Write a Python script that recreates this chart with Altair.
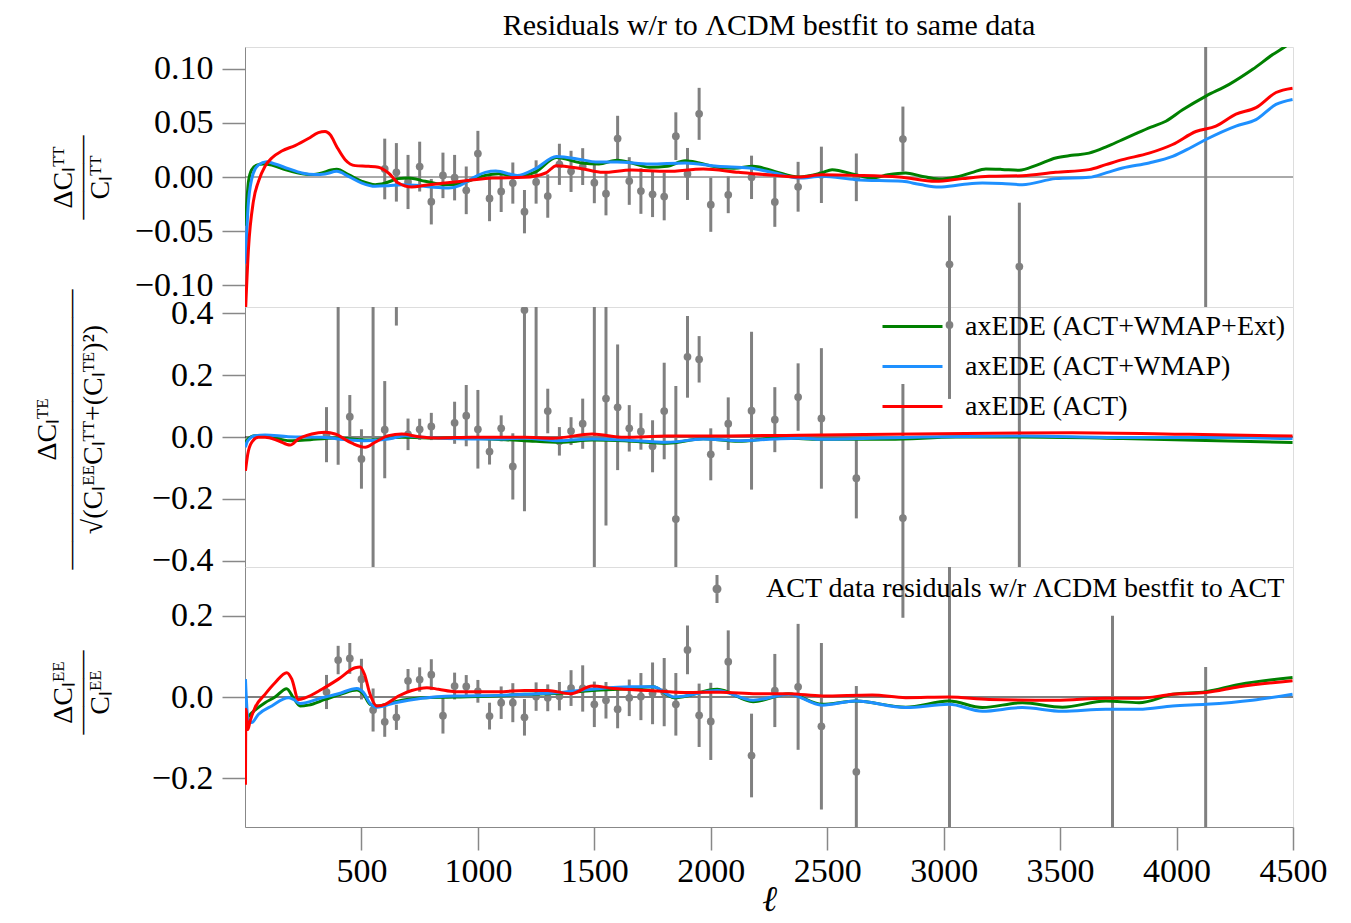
import altair as alt
import pandas as pd

FONT = "Liberation Serif"
SERIES = ["axEDE (ACT+WMAP+Ext)", "axEDE (ACT+WMAP)", "axEDE (ACT)"]
COLORS = ["#008000", "#1e90ff", "#ff0000"]
DATA_LABEL = "ACT data residuals w/r \u039bCDM bestfit to ACT"
TITLE = "Residuals w/r to \u039bCDM bestfit to same data"

X_TICKS = [500, 1000, 1500, 2000, 2500, 3000, 3500, 4000, 4500]
TT_TICKS = [-0.10, -0.05, 0.0, 0.05, 0.10]
TE_TICKS = [-0.4, -0.2, 0.0, 0.2, 0.4]
EE_TICKS = [-0.2, 0.0, 0.2]

# ---------------- model curves: TT ----------------
TT_G_ELL = [2, 15, 29, 50, 79, 115, 172, 229, 287, 330, 370, 394, 444, 502, 559, 602, 659, 702, 774, 860, 917, 974,
            1032, 1089, 1169, 1250, 1337, 1445, 1520, 1598, 1660, 1737, 1813, 1890, 1950, 2028, 2100, 2182, 2274,
            2378, 2478, 2521, 2622, 2693, 2760, 2837, 2900, 2980, 3052, 3120, 3181, 3250, 3324, 3400, 3481, 3550,
            3624, 3700, 3768, 3825, 3890, 3954, 4026, 4126, 4226, 4327, 4413, 4470, 4500]
TT_G_VAL = [-0.045, -0.004, 0.0068, 0.011, 0.012, 0.011, 0.0068, 0.0037, 0.0022, 0.0037, 0.0065, 0.0071, 0.0022,
            -0.004, -0.0071, -0.0056, -0.0015, -0.0009, -0.004, -0.0071, -0.0065, -0.0025, 0.0015, 0.003, 0.0006,
            0.005, 0.018, 0.013, 0.012, 0.0154, 0.013, 0.009, 0.010, 0.015, 0.013, 0.009, 0.008, 0.0099, 0.0052,
            0.0, 0.004, 0.0068, 0.002, -0.001, 0.002, 0.0037, 0.001, -0.0019, 0.0, 0.004, 0.0074, 0.007, 0.0062,
            0.011, 0.0176, 0.020, 0.022, 0.028, 0.0346, 0.040, 0.046, 0.0515, 0.062, 0.0747, 0.0855, 0.0994, 0.113,
            0.121, 0.126]
TT_B_ELL = [2, 15, 36, 57, 93, 129, 186, 244, 301, 344, 394, 444, 502, 559, 616, 673, 731, 802, 874, 924, 974, 1032,
            1077, 1169, 1250, 1337, 1445, 1506, 1598, 1737, 1890, 2028, 2166, 2274, 2378, 2478, 2622, 2823, 2900,
            2980, 3080, 3166, 3250, 3338, 3481, 3624, 3700, 3768, 3882, 3983, 4060, 4126, 4255, 4341, 4427, 4498]
TT_B_VAL = [-0.08, -0.0225, 0.0037, 0.011, 0.014, 0.012, 0.0077, 0.0037, 0.0022, 0.0028, 0.0052, 0.0006, -0.0056,
            -0.0086, -0.008, -0.0071, -0.0077, -0.0093, -0.0102, -0.0077, -0.0015, 0.0043, 0.0055, 0.0015, 0.008,
            0.019, 0.016, 0.0139, 0.0139, 0.012, 0.013, 0.0099, 0.0083, 0.0037, -0.001, 0.0006, -0.0025, -0.004,
            -0.007, -0.0093, -0.007, -0.0056, -0.006, -0.0071, -0.0015, -0.0003, 0.004, 0.0083, 0.013, 0.019, 0.027,
            0.0346, 0.047, 0.053, 0.067, 0.0716]
TT_R_ELL = [2, 15, 36, 58, 86, 115, 158, 215, 272, 315, 344, 366, 394, 430, 473, 530, 573, 616, 659, 716, 774, 831,
            903, 974, 1060, 1199, 1291, 1337, 1445, 1537, 1660, 1813, 1967, 2120, 2274, 2378, 2478, 2622, 2808, 2966,
            3080, 3195, 3338, 3481, 3624, 3696, 3768, 3882, 3983, 4083, 4169, 4255, 4341, 4427, 4498]
TT_R_VAL = [-0.125, -0.066, -0.0225, -0.004, 0.010, 0.0176, 0.024, 0.029, 0.0355, 0.041, 0.042, 0.039, 0.028, 0.016,
            0.0105, 0.0099, 0.009, 0.0037, -0.0056, -0.0093, -0.0077, -0.0062, -0.0046, -0.0028, -0.001, -0.0003,
            0.0037, 0.0105, 0.0077, 0.0043, 0.0065, 0.0052, 0.0074, 0.0043, 0.0015, 0.0, 0.002, 0.0015, 0.0, -0.004,
            -0.0015, 0.0006, 0.0012, 0.0043, 0.0068, 0.0114, 0.016, 0.022, 0.030, 0.042, 0.047, 0.058, 0.064, 0.078,
            0.082]

# ---------------- model curves: TE ----------------
TE_G_ELL = [2, 12, 43, 86, 194, 258, 387, 530, 673, 810, 974, 1200, 1353, 1491, 1629, 1813, 1967, 2120, 2274, 2378,
            2478, 2765, 3052, 3338, 3768, 4126, 4498]
TE_G_VAL = [-0.018, -0.007, 0.004, 0.003, -0.012, -0.010, -0.003, -0.010, -0.001, -0.003, -0.004, -0.012, -0.017,
            -0.010, -0.012, -0.020, -0.006, -0.014, -0.004, -0.005, -0.0075, -0.0075, 0.0, 0.0, -0.005, -0.011,
            -0.018]
TE_B_ELL = [2, 12, 43, 86, 186, 330, 444, 516, 616, 688, 760, 974, 1100, 1200, 1353, 1491, 1629, 1813, 1967, 2120,
            2274, 2378, 2478, 2908, 3338, 3768, 4200, 4498]
TE_B_VAL = [-0.033, -0.012, 0.004, 0.0065, 0.001, -0.001, -0.0097, -0.012, -0.0065, 0.004, -0.001, -0.0065, -0.0065,
            -0.004, -0.012, -0.0065, -0.0097, -0.017, -0.0065, -0.012, -0.0065, -0.004, -0.0075, 0.0, 0.003, -0.002,
            -0.002, -0.005]
TE_R_ELL = [2, 12, 29, 57, 86, 143, 194, 229, 287, 344, 387, 459, 516, 559, 616, 673, 745, 831, 974, 1200, 1322,
            1491, 1629, 1813, 1967, 2378, 2765, 3553, 4054, 4498]
TE_R_VAL = [-0.109, -0.055, -0.017, -0.001, -0.001, -0.012, -0.026, -0.0065, 0.0097, 0.015, 0.0097, -0.020, -0.033,
            -0.017, 0.0043, 0.0097, 0.001, -0.003, -0.001, -0.001, -0.004, 0.0097, -0.001, 0.003, 0.003, 0.006,
            0.009, 0.014, 0.0086, 0.003]

# ---------------- model curves: EE ----------------
EE_G_ELL = [2, 7, 29, 86, 129, 179, 208, 237, 272, 344, 416, 480, 509, 537, 566, 645, 760, 903, 1089, 1200, 1353,
            1491, 1660, 1752, 1844, 2028, 2182, 2335, 2478, 2622, 2837, 3023, 3166, 3338, 3510, 3696, 3839, 3983,
            4126, 4269, 4498]
EE_G_VAL = [-0.03, -0.051, -0.039, -0.014, 0.0, 0.0206, -0.002, -0.022, -0.020, -0.006, 0.008, 0.017, 0.0066,
            -0.018, -0.022, -0.0115, -0.002, 0.0, 0.003, 0.0066, 0.009, 0.016, 0.021, 0.025, -0.002, 0.019, -0.0115,
            0.008, -0.018, -0.010, -0.025, -0.010, -0.026, -0.014, -0.025, -0.010, -0.014, 0.0066, 0.013, 0.031,
            0.048]
EE_B_ELL = [2, 12, 29, 57, 115, 186, 208, 237, 330, 401, 480, 509, 537, 566, 645, 760, 903, 1089, 1200, 1353, 1491,
            1660, 1752, 1844, 2028, 2182, 2335, 2478, 2622, 2837, 3023, 3166, 3338, 3510, 3696, 3839, 3983, 4126,
            4326, 4498]
EE_B_VAL = [0.044, -0.051, -0.063, -0.043, -0.022, -0.002, -0.006, -0.016, -0.002, 0.008, 0.021, 0.011, -0.016,
            -0.025, -0.014, -0.003, 0.0025, 0.004, 0.0066, 0.011, 0.019, 0.025, 0.025, 0.0, 0.016, -0.008, 0.007,
            -0.020, -0.010, -0.026, -0.018, -0.035, -0.026, -0.035, -0.030, -0.030, -0.022, -0.018, -0.008, 0.0066]
EE_R_ELL = [2, 4, 12, 22, 43, 86, 129, 179, 201, 229, 258, 330, 401, 473, 494, 513, 537, 566, 602, 659, 716, 781,
            831, 903, 1089, 1200, 1300, 1399, 1491, 1583, 1737, 1890, 2043, 2197, 2335, 2478, 2693, 2837, 3023, 3195,
            3481, 3696, 3839, 3983, 4126, 4269, 4498]
EE_R_VAL = [-0.216, -0.030, -0.080, -0.059, -0.026, 0.0066, 0.035, 0.060, 0.044, -0.006, -0.002, 0.019, 0.044,
            0.072, 0.074, 0.056, 0.0066, -0.022, -0.018, 0.0025, 0.016, 0.023, 0.019, 0.013, 0.013, 0.016, 0.016,
            0.008, 0.027, 0.021, 0.016, 0.011, 0.012, 0.008, 0.008, 0.0025, 0.005, -0.0016, 0.0, -0.006, -0.008,
            -0.003, -0.003, 0.0066, 0.011, 0.025, 0.040]

# ---------------- ACT data residuals ----------------
TT_ELL = [600, 650, 700, 750, 800, 850, 900, 950, 1000, 1050, 1100, 1150, 1200, 1250, 1300, 1350, 1400, 1450, 1500,
          1550, 1600, 1650, 1700, 1750, 1800, 1850, 1900, 1950, 2000, 2075, 2175, 2275, 2375, 2475, 2625, 2825, 3025,
          3325, 4125]
TT_RES = [0.0074, 0.0043, -0.0046, 0.0096, -0.0228, 0.0015, -0.0006, -0.0123, 0.0216, -0.0198, -0.0133, -0.0056,
          -0.032, -0.0046, -0.0176, 0.0117, 0.0052, 0.0096, -0.0052, -0.0154, 0.0355, -0.0037, -0.013, -0.016, -0.018,
          0.0377, 0.0028, 0.0583, -0.0256, -0.0164, -0.0003, -0.023, -0.009, 0.002, -0.0003, 0.035, -0.0806, -0.0827,
          -0.2]
TT_ERR = [0.028, 0.027, 0.025, 0.023, 0.021, 0.021, 0.021, 0.022, 0.021, 0.021, 0.019, 0.019, 0.020, 0.020, 0.020,
          0.019, 0.019, 0.017, 0.019, 0.020, 0.021, 0.022, 0.021, 0.021, 0.022, 0.022, 0.024, 0.024, 0.025, 0.017,
          0.020, 0.023, 0.023, 0.026, 0.022, 0.030, 0.045, 0.059, 0.40]

TE_ELL = [350, 400, 450, 500, 550, 600, 650, 700, 750, 800, 900, 950, 1000, 1050, 1100, 1150, 1200, 1250, 1300, 1350,
          1400, 1450, 1500, 1550, 1600, 1650, 1700, 1750, 1800, 1850, 1900, 1950, 2000, 2075, 2175, 2275, 2375, 2475,
          2625, 2825, 3025, 3325]
TE_RES = [0.0075, 0.5, 0.0656, -0.071, -0.6, 0.0237, 0.55, 0.0086, 0.025, 0.034, 0.046, 0.069, 0.025, -0.047, 0.028,
          -0.095, 0.41, 0.6, 0.084, -0.014, 0.019, 0.043, -0.6, 0.124, 0.096, 0.028, 0.018, -0.030, 0.084, -0.265,
          0.259, 0.251, -0.056, 0.043, 0.085, 0.056, 0.129, 0.060, -0.133, -0.262, 0.362, -0.5]
TE_ERR = [0.089, 0.59, 0.070, 0.096, 1.2, 0.157, 0.19, 0.051, 0.034, 0.044, 0.068, 0.099, 0.127, 0.042, 0.042, 0.107,
          0.65, 0.6, 0.072, 0.046, 0.045, 0.081, 1.1, 0.41, 0.203, 0.075, 0.059, 0.084, 0.156, 0.43, 0.132, 0.075,
          0.084, 0.085, 0.255, 0.105, 0.109, 0.227, 0.13, 0.433, 0.239, 1.0]

EE_ELL = [350, 400, 450, 500, 550, 600, 650, 700, 750, 800, 850, 900, 950, 1000, 1050, 1100, 1150, 1200, 1250, 1300,
          1350, 1400, 1450, 1500, 1550, 1600, 1650, 1700, 1750, 1800, 1850, 1900, 1950, 2000, 2075, 2175, 2275, 2375,
          2475, 2625, 2825, 3025, 3725, 4125]
EE_RES = [0.0123, 0.091, 0.095, 0.044, -0.032, -0.061, -0.050, 0.040, 0.043, 0.055, -0.046, 0.027, 0.026, 0.014,
          -0.047, -0.014, -0.014, -0.050, 0.001, -0.002, 0.002, 0.022, 0.021, -0.018, -0.008, -0.030, -0.002, 0.001,
          0.009, 0.012, -0.018, 0.116, -0.045, -0.060, 0.087, -0.144, 0.016, 0.025, -0.072, -0.184, 0.42, -0.45,
          -0.4, -0.36]
EE_ERR = [0.042, 0.035, 0.038, 0.050, 0.053, 0.037, 0.031, 0.029, 0.030, 0.038, 0.044, 0.033, 0.028, 0.028, 0.033,
          0.040, 0.048, 0.045, 0.035, 0.033, 0.035, 0.044, 0.057, 0.056, 0.045, 0.047, 0.045, 0.058, 0.076, 0.084,
          0.077, 0.060, 0.078, 0.095, 0.077, 0.103, 0.090, 0.155, 0.205, 0.211, 0.225, 0.8, 0.6, 0.434]

TT_YTITLE = ["\u0394C\u2097\u1d40\u1d40", "\u2014\u2014\u2014", "C\u2097\u1d40\u1d40"]
TE_YTITLE = ["\u0394C\u2097\u1d40\u1d31", "\u2014" * 10,
             "\u221a(C\u2097\u1d31\u1d31C\u2097\u1d40\u1d40+(C\u2097\u1d40\u1d31)\u00b2)"]
EE_YTITLE = ["\u0394C\u2097\u1d31\u1d31", "\u2014\u2014\u2014", "C\u2097\u1d31\u1d31"]

GRAY = "#808080"
ERRBAR_SYMBOL = "M0,-1.4V1.4M-0.3,0A0.3,0.3,0,1,1,0.3,0A0.3,0.3,0,1,1,-0.3,0Z"


def make_panel(curves, ell, res, err, domain, ticks, fmt, ytitle, title_x, title_y, line_h,
               show_x=False, line_legend=None, point_legend=False, zero_color="black", top_title=None):
    cdf = pd.concat([pd.DataFrame({"ell": e, "v": v, "model": name, "k": i})
                     for i, (name, e, v) in enumerate(curves)], ignore_index=True)
    pdf = pd.DataFrame({"ell": ell, "res": res,
                        "lo": [r - s for r, s in zip(res, err)],
                        "hi": [r + s for r, s in zip(res, err)],
                        "lab": DATA_LABEL})
    zdf = pd.DataFrame({"z": [0.0]})

    yscale = alt.Scale(domain=domain, nice=False, zero=False)
    yaxis = alt.Axis(values=ticks, format=fmt, title=ytitle, titleX=title_x, titleY=title_y,
                     titleLineHeight=line_h, titleFontSize=28, titleFont=FONT, titleFontWeight="normal",
                     titleAngle=270, titleAlign="center", titleBaseline="bottom", grid=False,
                     labelFontSize=34, labelFont=FONT, labelPadding=9, tickSize=23, tickWidth=1.5,
                     labelFlush=False, labelOverlap=False, labelBound=False)
    if show_x:
        xaxis = alt.Axis(values=X_TICKS, format="d", title="\u2113", titleFontSize=36, titleFont=FONT,
                         titleFontStyle="italic", titleFontWeight="normal", titlePadding=-6, grid=False,
                         labelFontSize=34, labelFont=FONT, labelPadding=4, tickSize=23, tickWidth=1.5,
                         labelFlush=False, labelOverlap=False, labelBound=False)
    else:
        xaxis = None
    xenc = alt.X("ell:Q", scale=alt.Scale(domain=[0, 4500], nice=False, zero=False), axis=xaxis)

    def Y(field):
        return alt.Y(field, type="quantitative", scale=yscale, axis=yaxis)

    zero = alt.Chart(zdf).mark_rule(color=zero_color, strokeWidth=1).encode(y=Y("z"))
    bars = alt.Chart(pdf).mark_rule(color=GRAY, strokeWidth=3, clip=True).encode(
        x=xenc, y=Y("lo"), y2="hi")
    if point_legend:
        pts = alt.Chart(pdf).mark_circle(size=60, opacity=1, clip=True).encode(
            x=xenc, y=Y("res"),
            fill=alt.Fill("lab:N", scale=alt.Scale(domain=[DATA_LABEL], range=[GRAY]),
                          legend=alt.Legend(orient="none", legendX=458, legendY=8, title=None,
                                            symbolType=ERRBAR_SYMBOL, symbolSize=400,
                                            symbolStrokeColor=GRAY, symbolStrokeWidth=3,
                                            symbolFillColor=GRAY, symbolOpacity=1,
                                            labelFont=FONT, labelFontSize=28, labelOffset=35,
                                            labelLimit=700, labelColor="black", padding=0)))
    else:
        pts = alt.Chart(pdf).mark_circle(size=60, opacity=1, color=GRAY, clip=True).encode(
            x=xenc, y=Y("res"))
    lines = alt.Chart(cdf).mark_line(strokeWidth=3, clip=True, interpolate="monotone").encode(
        x=xenc, y=Y("v"),
        color=alt.Color("model:N", scale=alt.Scale(domain=SERIES, range=COLORS), legend=line_legend),
        detail="k:N")
    ch = alt.layer(zero, bars, pts, lines).properties(width=1048, height=260)
    if top_title is not None:
        ch = ch.properties(title=top_title)
    return ch


line_leg = alt.Legend(orient="none", legendX=651, legendY=3, title=None, symbolType="M-2,0H2",
                      symbolSize=900, symbolStrokeWidth=3, labelFont=FONT, labelFontSize=28,
                      labelOffset=36, rowPadding=9, padding=0, labelLimit=600, labelColor="black")

tt = make_panel([(SERIES[0], TT_G_ELL, TT_G_VAL), (SERIES[1], TT_B_ELL, TT_B_VAL), (SERIES[2], TT_R_ELL, TT_R_VAL)],
                TT_ELL, TT_RES, TT_ERR, [-0.12, 0.12], TT_TICKS, ".2f", TT_YTITLE, -168, 130, 18.5,
                zero_color="#555555",
                top_title=alt.TitleParams(TITLE, font=FONT, fontSize=30, fontWeight="normal", anchor="middle",
                                          frame="group", color="black", offset=6))
te = make_panel([(SERIES[0], TE_G_ELL, TE_G_VAL), (SERIES[1], TE_B_ELL, TE_B_VAL), (SERIES[2], TE_R_ELL, TE_R_VAL)],
                TE_ELL, TE_RES, TE_ERR, [-0.42, 0.42], TE_TICKS, ".1f", TE_YTITLE, -184, 122, 23,
                line_legend=line_leg)
ee = make_panel([(SERIES[0], EE_G_ELL, EE_G_VAL), (SERIES[1], EE_B_ELL, EE_B_VAL), (SERIES[2], EE_R_ELL, EE_R_VAL)],
                EE_ELL, EE_RES, EE_ERR, [-0.32, 0.32], EE_TICKS, ".1f", EE_YTITLE, -168, 125, 18.5,
                show_x=True, point_legend=True)

chart = alt.vconcat(tt, te, ee, spacing=0, bounds="flush").resolve_scale(
    y="independent", color="independent", fill="independent"
).resolve_axis(y="independent").resolve_legend(color="independent", fill="independent").properties(
    padding={"left": 24, "top": 2, "right": 8, "bottom": 2}
).configure_view(stroke="black", strokeWidth=2).configure_axis(
    domain=False, grid=False, tickColor="black", labelColor="black", titleColor="black",
    labelFont=FONT, titleFont=FONT
).configure(font=FONT)

chart.save("out.html", embed_options={"renderer": "svg", "actions": False})
